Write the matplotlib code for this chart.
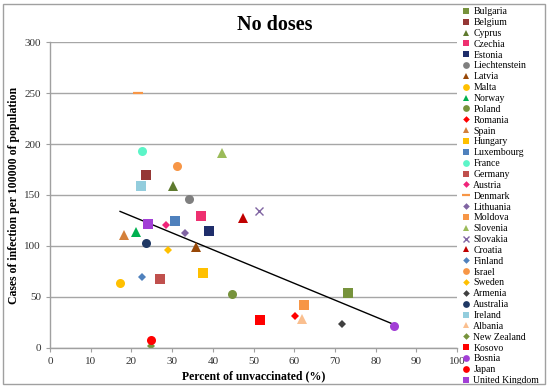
import matplotlib
matplotlib.use("Agg")
import matplotlib.pyplot as plt
import numpy as np
from matplotlib.patches import Rectangle

countries = ["Bulgaria", "Belgium", "Cyprus", "Czechia", "Estonia", "Liechtenstein",
             "Latvia", "Malta", "Norway", "Poland", "Romania", "Spain", "Hungary",
             "Luxembourg", "France", "Germany", "Austria", "Denmark", "Lithuania",
             "Moldova", "Slovenia", "Slovakia", "Croatia", "Finland", "Israel",
             "Sweden", "Armenia", "Australia", "Ireland", "Albania", "New Zealand",
             "Kosovo", "Bosnia", "Japan", "United Kingdom"]
unvaccinated = [73.2, 23.6, 30.1, 37.1, 39.1, 34.1, 35.8, 17.2, 21.0, 44.6, 60.2,
                18.1, 37.6, 30.8, 22.6, 27.0, 28.6, 21.6, 33.1, 62.3, 42.3, 51.3,
                47.3, 22.6, 31.2, 29.1, 71.7, 23.5, 22.3, 61.8, 24.9, 51.7, 84.6,
                24.9, 24.1]
cases = [54, 170, 159, 129, 115, 146, 99, 64, 114, 53, 31, 111, 73, 124, 193, 68,
         121, 250, 113, 42, 191, 134, 127, 70, 178, 96, 23, 103, 159, 28, 2, 27,
         21, 8, 122]
markers = ["s", "s", "^", "s", "s", "o", "^", "o", "^", "o", "D", "^", "s", "s",
           "o", "s", "D", "_", "D", "s", "^", "x", "^", "D", "o", "D", "D", "o",
           "s", "^", "D", "s", "o", "o", "s"]
colors = ["#77933C", "#953735", "#5E7A2E", "#EE3070", "#1F2E6B", "#7F7F7F",
          "#984807", "#FFC000", "#00B050", "#77933C", "#FF0000", "#D4803A",
          "#FFC000", "#4F81BD", "#5CF5C8", "#C0504D", "#F0247A", "#F79646",
          "#8064A2", "#F79646", "#9BBB59", "#8064A2", "#C00000", "#4F81BD",
          "#F79646", "#FFC000", "#404040", "#1F3864", "#93CDDD", "#FABF8F",
          "#77933C", "#FF0000", "#A23FD6", "#FF0000", "#A23FD6"]

x_ticks = list(range(0, 101, 10))
y_ticks = list(range(0, 301, 50))

serif = ["Liberation Serif", "DejaVu Serif"]
plt.rcParams["font.family"] = serif

fig = plt.figure(figsize=(5.5, 3.9), dpi=100)
ax = fig.add_axes([0.091, 0.108, 0.74, 0.784])

sizes = {"s": 6.5, "o": 6.5, "^": 6.5, "D": 4.5, "_": 7, "x": 6}
for c, xv, yv, m, col in zip(countries, unvaccinated, cases, markers, colors):
    kw = dict(marker=m, linestyle="none", color=col, markersize=sizes[m], label=c)
    if m in ("_", "x"):
        kw["markeredgewidth"] = 1.6 if m == "_" else 1.0
    else:
        kw["markeredgewidth"] = 0
    ax.plot([xv], [yv], **kw)

xa = np.array(unvaccinated)
ya = np.array(cases)
k, b = np.polyfit(xa, ya, 1)
xt = np.array([xa.min(), xa.max()])
ax.plot(xt, k * xt + b, color="black", linewidth=1.0, zorder=1)

ax.set_xlim(0, 100)
ax.set_ylim(0, 300)
ax.set_xticks(x_ticks)
ax.set_yticks(y_ticks)
ax.tick_params(axis="both", labelsize=8, colors="#333333", length=3, width=0.8)
ax.tick_params(axis="both", color="#A0A0A0")
ax.yaxis.grid(True, color="#A6A6A6", linewidth=1.0)
ax.set_axisbelow(True)
for s in ("top", "right"):
    ax.spines[s].set_visible(False)
for s in ("left", "bottom"):
    ax.spines[s].set_color("#A0A0A0")
    ax.spines[s].set_linewidth(1.0)

ax.set_xlabel("Percent of unvaccinated (%)", fontsize=8.5, fontweight="bold", labelpad=3)
ax.set_ylabel("Cases of infection per 100000 of population", fontsize=8.5,
              fontweight="bold", labelpad=3)
fig.text(0.5, 0.935, "No doses", ha="center", va="center", fontsize=14.5,
         fontweight="bold")

leg = ax.legend(loc="upper left", bbox_to_anchor=(1.015, 1.114), frameon=False,
                fontsize=7, labelspacing=0.19, handlelength=0.6, handletextpad=0.45,
                borderaxespad=0, borderpad=0, markerscale=0.75)

fig.patches.append(Rectangle((0.006, 0.015), 0.985, 0.975, transform=fig.transFigure,
                             fill=False, edgecolor="#A0A0A0", linewidth=1.0))

fig.savefig("out.png", dpi=100)
